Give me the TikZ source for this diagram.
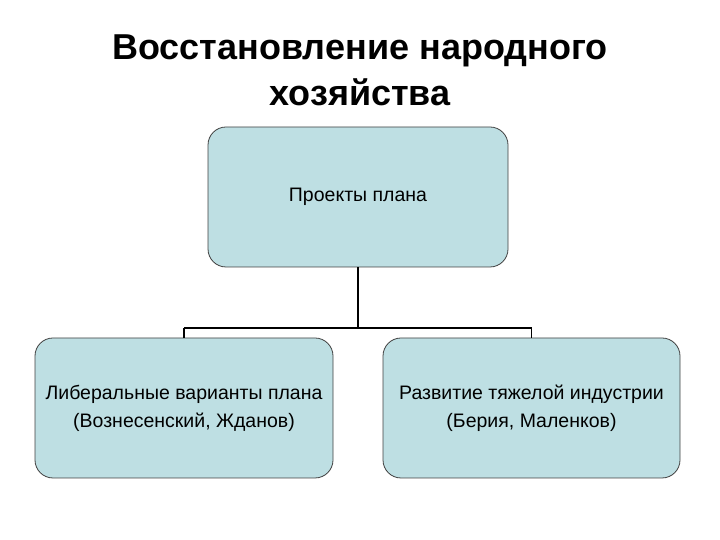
\documentclass[tikz,border=0pt]{standalone}
\usepackage{fontspec}
\setmainfont{Liberation Sans}
\begin{document}
\begin{tikzpicture}[x=1pt,y=1pt,
  box/.style={draw=black!75,line width=0.8pt,fill={rgb,255:red,190;green,223;blue,227},rounded corners=18pt,align=center,font=\fontsize{19.5}{28}\selectfont,inner sep=0pt},
  conn/.style={draw=black,line width=1.3pt}]
\useasboundingbox (0,0) rectangle (720,540);
\node[font=\bfseries\fontsize{36}{46}\selectfont,align=center] (title) at (360,470) {Восстановление народного\\хозяйства};
\node[box,minimum width=300pt,minimum height=140pt] (top) at (358,343) {Проекты плана};
\node[box,minimum width=298pt,minimum height=140pt] (left) at (184,132) {Либеральные варианты плана\\(Вознесенский, Жданов)};
\node[box,minimum width=297pt,minimum height=140pt] (right) at (531.5,132) {Развитие тяжелой индустрии\\(Берия, Маленков)};
\coordinate (j) at (358,212);
\coordinate (jl) at (184,212);
\coordinate (jr) at (531.5,212);
\draw[conn] (top.south) -- (j);
\draw[conn] (jl) -- (jr);
\draw[conn] (jl) -- (left.north);
\draw[conn] (jr) -- (right.north);
\end{tikzpicture}
\end{document}
